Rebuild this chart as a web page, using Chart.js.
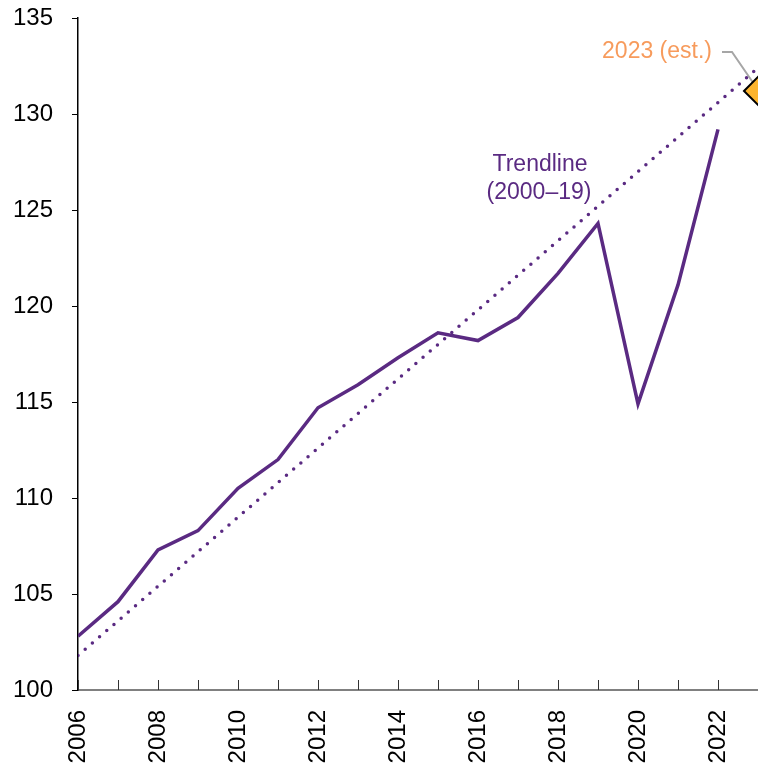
<!DOCTYPE html>
<html>
<head>
<meta charset="utf-8">
<script src="https://cdn.jsdelivr.net/npm/chart.js@4/dist/chart.umd.min.js"></script>
<style>
  html, body { margin: 0; padding: 0; background: #fff; }
  canvas { display: block; }
</style>
</head>
<body>
<canvas id="chart" width="758" height="769"></canvas>
<script>
// Values
const years = [2006, 2007, 2008, 2009, 2010, 2011, 2012, 2013, 2014, 2015, 2016, 2017, 2018, 2019, 2020, 2021, 2022];
const values = [102.8, 104.6, 107.3, 108.3, 110.5, 112.0, 114.7, 115.9, 117.3, 118.6, 118.2, 119.4, 121.7, 124.3, 114.9, 121.1, 129.2];
const trendYears = [2006, 2023];
const trendValues = [101.8, 132.4];
const estYears = [2023];
const estValues = [131.2];
const yTicks = [100, 105, 110, 115, 120, 125, 130, 135];

const PURPLE = '#5a2a82';
const ORANGE = '#f79b5c';
const FONT = '"Liberation Sans", Arial, sans-serif';

const toPoints = (xs, ys) => xs.map((x, i) => ({ x: x, y: ys[i] }));

// Axis decorations + text labels
const annotations = {
    id: 'annotations',
    beforeDatasetsDraw(chart) {
        const { ctx, scales } = chart;
        const x = scales.x, y = scales.y;
        const area = chart.chartArea;
        ctx.save();
        // x tick marks pointing up into the plot
        ctx.strokeStyle = '#333';
        ctx.lineWidth = 1;
        for (let yr = x.min; yr <= x.max; yr++) {
            const px = Math.round(x.getPixelForValue(yr)) + 0.5;
            ctx.beginPath();
            ctx.moveTo(px, area.bottom);
            ctx.lineTo(px, area.bottom - 10);
            ctx.stroke();
        }
        // leader line to the estimate
        const ex = x.getPixelForValue(estYears[0]);
        const ey = y.getPixelForValue(estValues[0]);
        ctx.strokeStyle = '#a6a6a6';
        ctx.lineWidth = 2;
        ctx.beginPath();
        ctx.moveTo(ex - 36, ey - 39);
        ctx.lineTo(ex - 26, ey - 39);
        ctx.lineTo(ex - 2, ey - 4);
        ctx.stroke();
        ctx.restore();
    },
    afterDatasetsDraw(chart) {
        const { ctx, scales } = chart;
        const x = scales.x, y = scales.y;
        ctx.save();
        ctx.font = '23px ' + FONT;
        ctx.textBaseline = 'middle';
        ctx.fillStyle = PURPLE;
        ctx.textAlign = 'center';
        ctx.fillText('Trendline', 540, 165);
        ctx.fillText('(2000\u201319)', 539, 193);
        const ex = x.getPixelForValue(estYears[0]);
        const ey = y.getPixelForValue(estValues[0]);
        ctx.fillStyle = ORANGE;
        ctx.textAlign = 'right';
        ctx.fillText('2023 (est.)', ex - 46, ey - 39);
        ctx.restore();
    }
};

new Chart(document.getElementById('chart'), {
    type: 'line',
    data: {
        datasets: [
            {
                label: 'Trendline',
                data: toPoints(trendYears, trendValues),
                borderColor: PURPLE,
                borderWidth: 3.5,
                borderDash: [0, 9.5],
                borderCapStyle: 'round',
                pointRadius: 0,
                fill: false
            },
            {
                label: 'Actual',
                data: toPoints(years, values),
                borderColor: PURPLE,
                borderWidth: 3.5,
                borderJoinStyle: 'miter',
                pointRadius: 0,
                tension: 0,
                fill: false
            },
            {
                label: '2023 (est.)',
                data: toPoints(estYears, estValues),
                showLine: false,
                pointStyle: 'rectRot',
                pointRadius: 14,
                pointBackgroundColor: '#fcb42f',
                pointBorderColor: '#000',
                pointBorderWidth: 2,
                clip: false
            }
        ]
    },
    options: {
        responsive: false,
        animation: false,
        layout: { autoPadding: false, padding: { top: 18, right: 0, left: 0, bottom: 0 } },
        plugins: {
            legend: { display: false },
            tooltip: { enabled: false }
        },
        scales: {
            x: {
                type: 'linear',
                min: 2006,
                max: 2023,
                grid: { display: false, drawTicks: false },
                border: { display: true, color: '#808080', width: 2 },
                ticks: {
                    stepSize: 1,
                    autoSkip: false,
                    maxRotation: 90,
                    minRotation: 90,
                    padding: 20,
                    color: '#000',
                    font: { family: FONT, size: 24 },
                    callback: (v) => (v % 2 === 0 ? String(v) : '')
                },
                afterFit(scale) {
                    scale.height = 79;
                    scale.paddingLeft = 0;
                    scale.paddingRight = 0;
                }
            },
            y: {
                min: 100,
                max: 135,
                afterBuildTicks(scale) {
                    scale.ticks = yTicks.map(v => ({ value: v }));
                },
                grid: {
                    drawOnChartArea: false,
                    drawTicks: true,
                    tickLength: 6,
                    tickColor: '#000'
                },
                border: { display: true, color: '#000', width: 1.5 },
                ticks: {
                    padding: 19,
                    color: '#000',
                    font: { family: FONT, size: 24 }
                },
                afterFit(scale) {
                    scale.width = 78;
                    scale.paddingTop = 0;
                    scale.paddingBottom = 0;
                }
            }
        }
    },
    plugins: [annotations]
});
</script>
</body>
</html>
